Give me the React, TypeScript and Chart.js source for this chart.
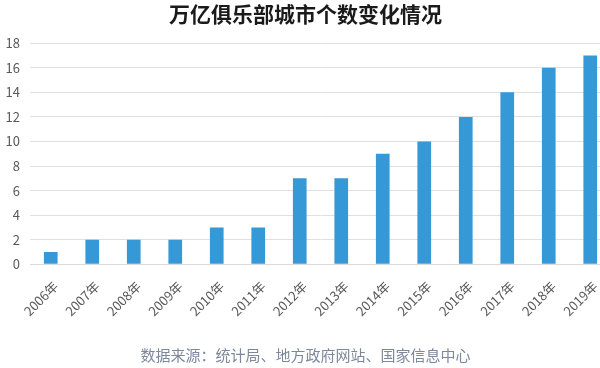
import React, { useEffect, useRef } from "react";
import { Chart, registerables } from "chart.js";

Chart.register(...registerables);

const categories = ["2006年", "2007年", "2008年", "2009年", "2010年", "2011年", "2012年", "2013年", "2014年", "2015年", "2016年", "2017年", "2018年", "2019年"];
const cityCounts = [1, 2, 2, 2, 3, 3, 7, 7, 9, 10, 12, 14, 16, 17];
const titleText = "万亿俱乐部城市个数变化情况";
const sourceText = "数据来源：统计局、地方政府网站、国家信息中心";

const FONT = "'Noto Sans CJK SC', 'Open Sans', sans-serif";

export default function App() {
  const ref = useRef<HTMLCanvasElement | null>(null);
  useEffect(() => {
    document.body.style.margin = "0";
    if (!ref.current) return;
    const chart = new Chart(ref.current, {
      type: "bar",
      data: {
        labels: categories,
        datasets: [
          {
            data: cityCounts,
            backgroundColor: "#3599d8",
            barPercentage: 0.66,
            categoryPercentage: 0.5,
          },
        ],
      },
      options: {
        animation: false,
        responsive: false,
        layout: { padding: { left: 0, right: 1, top: 0, bottom: 4 } },
        plugins: {
          legend: { display: false },
          tooltip: { enabled: false },
          title: {
            display: true,
            text: titleText,
            color: "#1a1a1a",
            font: { family: FONT, size: 21, weight: "bold" },
            padding: { top: 1, bottom: 17 },
          },
          subtitle: {
            display: true,
            position: "bottom",
            text: sourceText,
            color: "#7d889c",
            font: { family: FONT, size: 15 },
            padding: { top: 21, bottom: 0 },
          },
        },
        scales: {
          x: {
            grid: { display: false },
            border: { display: true, color: "#d9d9d9" },
            afterFit: (scale: any) => {
              scale.paddingLeft = 0;
              scale.paddingRight = 0;
            },
            ticks: {
              color: "#595959",
              font: { family: FONT, size: 13 },
              minRotation: 45,
              maxRotation: 45,
              padding: 6,
              labelOffset: 5,
            },
          },
          y: {
            min: 0,
            max: 18,
            border: { display: false },
            grid: { color: "#e0e0e0", drawTicks: false },
            afterFit: (scale: any) => {
              scale.width = 30;
            },
            ticks: {
              stepSize: 2,
              color: "#595959",
              font: { family: FONT, size: 13 },
              padding: 10,
            },
          },
        },
      },
    });
    return () => chart.destroy();
  }, []);
  return (
    <div style={{ position: "fixed", left: 0, top: 0, width: 600, height: 368, overflow: "hidden" }}>
      <canvas ref={ref} width={612} height={368} />
    </div>
  );
}
